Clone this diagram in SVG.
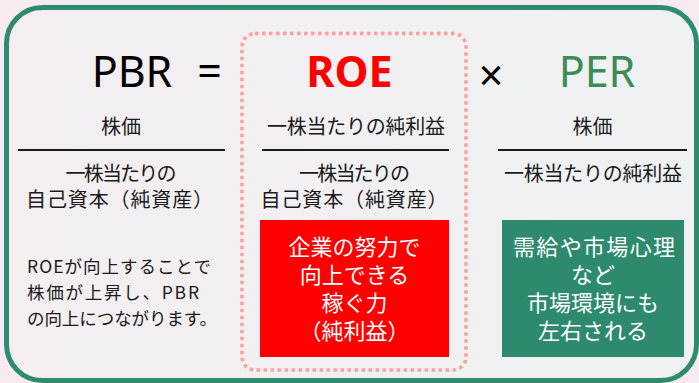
<svg xmlns="http://www.w3.org/2000/svg" width="699" height="383" viewBox="0 0 699 383">
<defs>
<linearGradient id="inner" x1="0" y1="0" x2="1" y2="0">
<stop offset="0" stop-color="#f4eef1"/>
<stop offset="1" stop-color="#eff2f2"/>
</linearGradient>
<style>
.jp{font-family:"Noto Sans CJK JP","Noto Sans",sans-serif;fill:#1a1a1a;}
.col{font-size:20px;text-anchor:middle;}
.box{font-size:22px;text-anchor:middle;fill:#ffffff;}
.para{font-size:17.5px;}
.title{font-family:"Noto Sans","Liberation Sans",sans-serif;font-size:43px;text-anchor:middle;}
.rule{stroke:#1a1a1a;stroke-width:2;}
</style>
</defs>
<rect x="0" y="0" width="699" height="383" fill="#f7eaf0"/>
<g id="frame">
<rect x="6.5" y="7.5" width="690" height="373" rx="36" fill="url(#inner)" stroke="#2e8b6e" stroke-width="5"/>
</g>
<g id="roe-highlight">
<rect x="242" y="33.5" width="224" height="336.5" rx="13" fill="none" stroke="#ff9e9e" stroke-width="3.5" stroke-dasharray="3.5 3.5"/>
</g>
<g id="pbr">
<text class="title" x="132" y="87" fill="#000">PBR</text>
<text class="jp col" x="121" y="133.5">株価</text>
<line class="rule" x1="18" y1="150" x2="225" y2="150"/>
<text class="jp col" x="121" y="180.5" textLength="111" lengthAdjust="spacing">一株当たりの</text>
<text class="jp col" x="119.5" y="206.5" textLength="187" lengthAdjust="spacing">自己資本（純資産）</text>
</g>
<g id="equals">
<text class="title" x="209.5" y="87" fill="#000">=</text>
</g>
<g id="roe">
<text class="title" x="349.5" y="87" fill="#ff0000" font-weight="bold" font-size="44.5">ROE</text>
<text class="jp col" x="356" y="133.5" textLength="178" lengthAdjust="spacing">一株当たりの純利益</text>
<line class="rule" x1="262" y1="150" x2="449" y2="150"/>
<text class="jp col" x="354.5" y="180.5" textLength="111" lengthAdjust="spacing">一株当たりの</text>
<text class="jp col" x="354" y="206.5" textLength="187" lengthAdjust="spacing">自己資本（純資産）</text>
</g>
<g id="times">
<text class="title" x="491" y="91" fill="#000" font-size="46">×</text>
</g>
<g id="per">
<text class="title" x="597" y="87" fill="#3d8b55">PER</text>
<text class="jp col" x="592.5" y="133.5">株価</text>
<line class="rule" x1="498" y1="150" x2="687" y2="150"/>
<text class="jp col" x="593" y="180.5" textLength="178" lengthAdjust="spacing">一株当たりの純利益</text>
</g>
<g id="note">
<text class="jp para" x="27" y="273" textLength="184" lengthAdjust="spacing">ROEが向上することで</text>
<text class="jp para" x="27" y="299" textLength="172" lengthAdjust="spacing">株価が上昇し、PBR</text>
<text class="jp para" x="27" y="325" textLength="190" lengthAdjust="spacing">の向上につながります。</text>
</g>
<g id="roe-box">
<rect x="260" y="220" width="189" height="137" fill="#ff0000"/>
<text class="jp box" x="354.5" y="255">企業の努力で</text>
<text class="jp box" x="354.5" y="282.5">向上できる</text>
<text class="jp box" x="354.5" y="310.5">稼ぐ力</text>
<text class="jp box" x="354.5" y="338.5">（純利益）</text>
</g>
<g id="per-box">
<rect x="502" y="220" width="182" height="137" fill="#2e8a6e"/>
<text class="jp box" x="594" y="255" textLength="162" lengthAdjust="spacing">需給や市場心理</text>
<text class="jp box" x="593" y="282.5">など</text>
<text class="jp box" x="593" y="310.5">市場環境にも</text>
<text class="jp box" x="593" y="338.5">左右される</text>
</g>
<g id="connectors"></g>
</svg>
